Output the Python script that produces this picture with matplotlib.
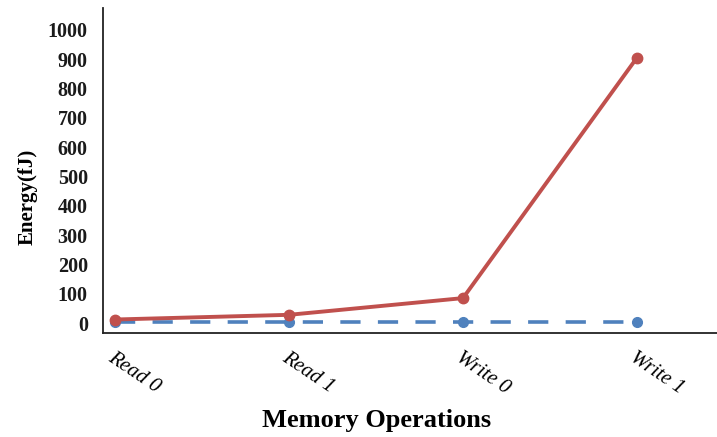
import matplotlib
matplotlib.use("Agg")
import matplotlib.pyplot as plt

categories = ["Read 0", "Read 1", "Write 0", "Write 1"]
series_red = [12, 28, 85, 905]
series_blue = [3, 3, 3, 3]
yticks = [0, 100, 200, 300, 400, 500, 600, 700, 800, 900, 1000]

plt.rcParams['font.family'] = ['Liberation Serif', 'DejaVu Serif']

fig = plt.figure(figsize=(7.17, 4.37), dpi=100)
ax = fig.add_axes([0.1437, 0.238, 0.8563, 0.744])

x = list(range(len(categories)))
ax.plot(x, series_blue, color='#4F81BD', lw=2.6, linestyle=(0, (5.6, 4.8)),
        marker='o', markersize=7, zorder=2)
ax.plot(x, series_red, color='#C0504D', lw=2.8, marker='o', markersize=7.5,
        zorder=3)

ax.set_xlim(-0.069, 3.46)
ax.set_ylim(-34, 1075)
ax.set_yticks(yticks)
ax.set_yticklabels([str(v) for v in yticks], fontsize=14.5, fontweight='bold',
                   color='#1a1a1a')
ax.set_xticks(x)
ax.set_xticklabels(categories, fontsize=15, rotation=-34, ha='left',
                   va='top', rotation_mode='anchor', style='italic')
ax.tick_params(axis='both', length=0)
ax.tick_params(axis='y', pad=11)
ax.tick_params(axis='x', pad=11)

for s in ['top', 'right']:
    ax.spines[s].set_visible(False)
for s in ['left', 'bottom']:
    ax.spines[s].set_linewidth(1.3)
    ax.spines[s].set_color('#222222')

ax.set_ylabel("Energy(fJ)", fontsize=15, fontweight='bold')
ax.yaxis.set_label_coords(-0.107, 0.42)
ax.set_xlabel("Memory Operations", fontsize=19, fontweight='bold')
ax.xaxis.label.set_va('center')
ax.xaxis.set_label_coords(0.446, -0.27)

fig.savefig("out.png", dpi=100)
